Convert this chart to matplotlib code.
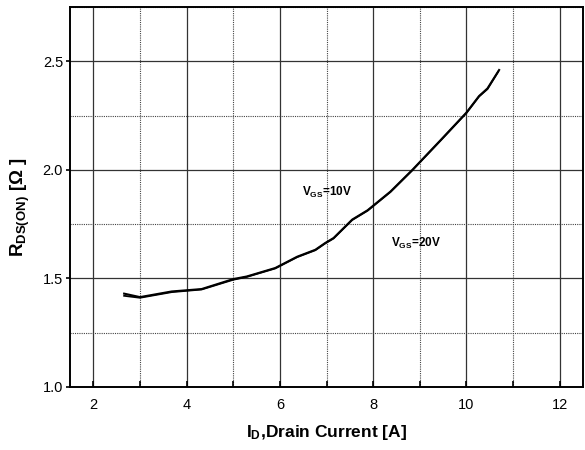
import matplotlib
matplotlib.use("Agg")
import matplotlib.pyplot as plt
from matplotlib.ticker import MultipleLocator

plt.rcParams['font.family'] = ['Liberation Sans', 'DejaVu Sans']
plt.rcParams['mathtext.fontset'] = 'custom'
plt.rcParams['mathtext.rm'] = 'Liberation Sans:bold'
plt.rcParams['mathtext.it'] = 'Liberation Sans:bold'
plt.rcParams['mathtext.default'] = 'rm'

# drain current [A] vs on-resistance [ohm]
id_10v = [2.66, 3.0, 3.68, 4.32, 5.0, 5.29, 5.9, 6.37, 6.76, 6.97, 7.15, 7.55, 7.88,
          8.37, 8.84, 9.45, 10.0, 10.27, 10.45, 10.70]
rds_10v = [1.430, 1.414, 1.440, 1.451, 1.497, 1.509, 1.548, 1.600, 1.632, 1.663, 1.686,
           1.771, 1.814, 1.900, 2.000, 2.138, 2.264, 2.340, 2.375, 2.460]

id_20v = [2.66, 3.0, 3.68, 4.32, 5.0, 5.29, 5.9, 6.37, 6.76, 6.97, 7.15, 7.55, 7.88,
          8.37, 8.84, 9.45, 10.0, 10.27, 10.45, 10.68]
rds_20v = [1.420, 1.411, 1.437, 1.449, 1.494, 1.507, 1.546, 1.598, 1.630, 1.661, 1.684,
           1.769, 1.812, 1.898, 1.998, 2.136, 2.262, 2.338, 2.372, 2.452]

fig = plt.figure(figsize=(5.85, 4.5), dpi=100)
ax = fig.add_axes([0.1197, 0.14, 0.877, 0.8444])

ax.plot(id_10v, rds_10v, color='black', lw=1.5)
ax.plot(id_20v, rds_20v, color='black', lw=1.3)

ax.set_xlim(1.5, 12.5)
ax.set_ylim(1.0, 2.75)
ax.xaxis.set_major_locator(MultipleLocator(2))
ax.xaxis.set_minor_locator(MultipleLocator(1))
ax.yaxis.set_major_locator(MultipleLocator(0.5))
ax.yaxis.set_minor_locator(MultipleLocator(0.25))
ax.yaxis.set_major_formatter(plt.FormatStrFormatter('%.1f'))

ax.grid(True, which='major', color='#333333', lw=0.9, ls='-')
ax.grid(True, which='minor', color='#444444', lw=0.8, ls=(0, (1, 1)))
ax.set_axisbelow(True)

for s in ax.spines.values():
    s.set_linewidth(1.4)

ax.tick_params(axis='x', which='both', direction='in', length=4, width=1.2,
               labelsize=10.5, pad=8)
ax.tick_params(axis='y', which='major', direction='out', length=3, width=1.2,
               labelsize=10.5, pad=2)
ax.tick_params(axis='y', which='minor', length=0)

ax.set_xlabel('$I_D$,Drain Current [A]', fontsize=12.5, fontweight='bold', labelpad=8)
ax.set_ylabel('$R_{DS(ON)}$ [Ω ]', fontsize=13.5, fontweight='bold')
ax.yaxis.set_label_coords(-0.074, 0.474)

ax.text(6.48, 1.895, '$V_{GS}$=10V', fontsize=8.5, fontweight='bold', va='center', ha='left')
ax.text(8.39, 1.663, '$V_{GS}$=20V', fontsize=8.5, fontweight='bold', va='center', ha='left')

fig.savefig('out.png', dpi=100)
